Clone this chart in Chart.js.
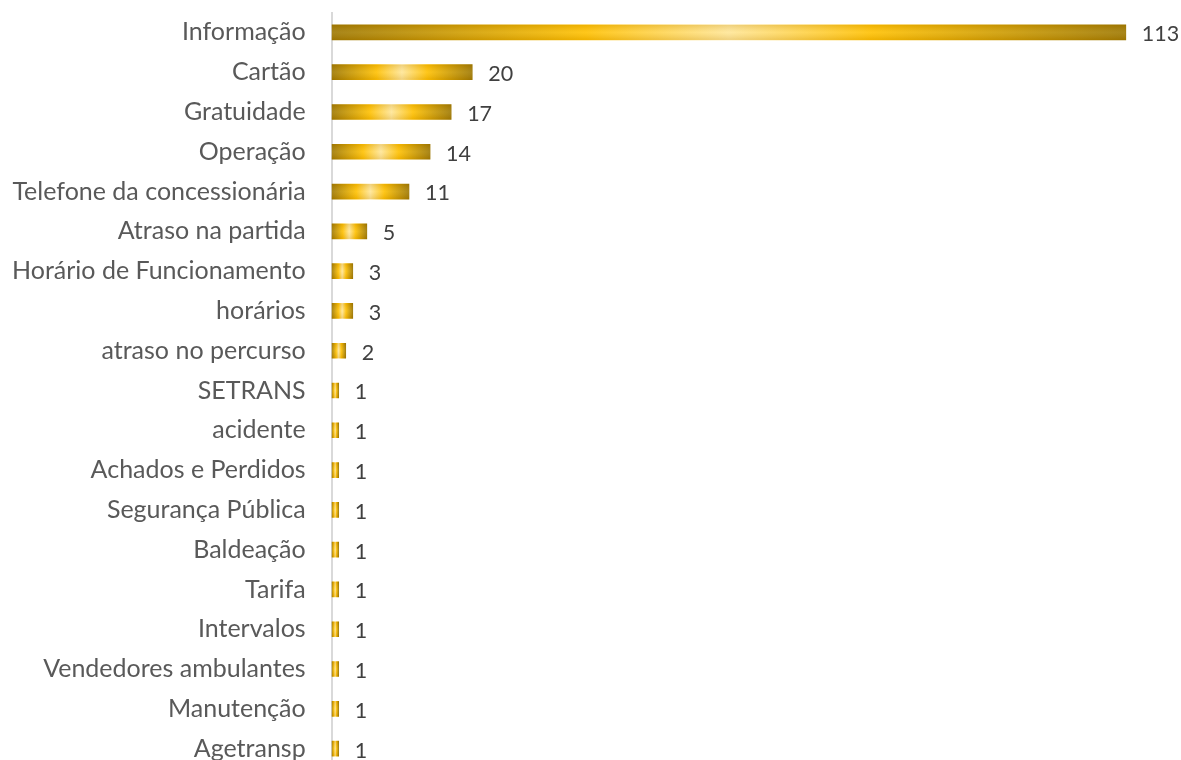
<!DOCTYPE html>
<html>
<head>
<meta charset="utf-8">
<script src="https://cdn.jsdelivr.net/npm/chart.js@4.4.1/dist/chart.umd.min.js"></script>
<style>
  html, body { margin: 0; padding: 0; background: #fff; overflow: hidden; }
  canvas { display: block; }
</style>
</head>
<body>
<canvas id="motivosChart" width="1181" height="781"></canvas>
<script>
// motivos de contato e quantidade de registros
const categorias = [
    'Informação', 'Cartão', 'Gratuidade', 'Operação', 'Telefone da concessionária',
    'Atraso na partida', 'Horário de Funcionamento', 'horários', 'atraso no percurso',
    'SETRANS', 'acidente', 'Achados e Perdidos', 'Segurança Pública', 'Baldeação',
    'Tarifa', 'Intervalos', 'Vendedores ambulantes', 'Manutenção', 'Agetransp'
];
const quantidades = [113, 20, 17, 14, 11, 5, 3, 3, 2, 1, 1, 1, 1, 1, 1, 1, 1, 1, 1];

const fonteRotulo = { family: "Lato, 'Open Sans', sans-serif", size: 25, lineHeight: 1 };

// degradê horizontal dourado: escuro nas pontas, claro no meio
function douradoHorizontal(ctx) {
    const chart = ctx.chart;
    const xs = chart.scales.x;
    if (!xs || ctx.dataIndex === undefined) return '#ffc000';
    const x0 = xs.getPixelForValue(0);
    const x1 = xs.getPixelForValue(quantidades[ctx.dataIndex]);
    if (!isFinite(x0) || !isFinite(x1) || x1 - x0 < 1) return '#ffc000';
    const g = chart.ctx.createLinearGradient(x0, 0, x1, 0);
    g.addColorStop(0, '#9c7600');
    g.addColorStop(0.32, '#ffc000');
    g.addColorStop(0.5, '#ffe699');
    g.addColorStop(0.68, '#ffc000');
    g.addColorStop(1, '#9c7600');
    return g;
}

// leve sombreado vertical sobre cada barra + rótulos de valor
const acabamentoBarras = {
    id: 'acabamentoBarras',
    afterDatasetsDraw(chart) {
        const c = chart.ctx;
        const meta = chart.getDatasetMeta(0);
        meta.data.forEach((bar, i) => {
            const top = bar.y - bar.height / 2;
            const left = Math.min(bar.base, bar.x);
            const w = Math.abs(bar.x - bar.base);
            const g = c.createLinearGradient(0, top, 0, top + bar.height);
            g.addColorStop(0, 'rgba(160,105,0,0.18)');
            g.addColorStop(0.5, 'rgba(255,250,220,0.12)');
            g.addColorStop(1, 'rgba(160,105,0,0.18)');
            c.save();
            c.fillStyle = g;
            c.fillRect(left, top, w, bar.height);
            c.fillStyle = '#404040';
            c.font = "21.5px Lato, 'Open Sans', sans-serif";
            c.textBaseline = 'middle';
            c.textAlign = 'left';
            c.fillText(String(quantidades[i]), bar.x + 16, bar.y + 2);
            c.restore();
        });
    }
};

new Chart(document.getElementById('motivosChart'), {
    type: 'bar',
    data: {
        labels: categorias,
        datasets: [{
            data: quantidades,
            backgroundColor: douradoHorizontal,
            borderWidth: 0,
            barThickness: 15
        }]
    },
    options: {
        indexAxis: 'y',
        responsive: false,
        animation: false,
        layout: { padding: { top: 0, right: 6, bottom: 0, left: 12 } },
        plugins: {
            legend: { display: false },
            tooltip: { enabled: false }
        },
        scales: {
            x: {
                min: 0,
                max: 120,
                display: false,
                grid: { display: false }
            },
            y: {
                // a marca do eixo fica invisível; só reserva o espaço entre rótulo e linha
                grid: { display: false, drawTicks: true, tickLength: 26 },
                border: { display: true, color: '#d9d9d9', width: 2 },
                ticks: { color: '#595959', font: fonteRotulo, padding: 0 }
            }
        }
    },
    plugins: [acabamentoBarras]
});
</script>
</body>
</html>
